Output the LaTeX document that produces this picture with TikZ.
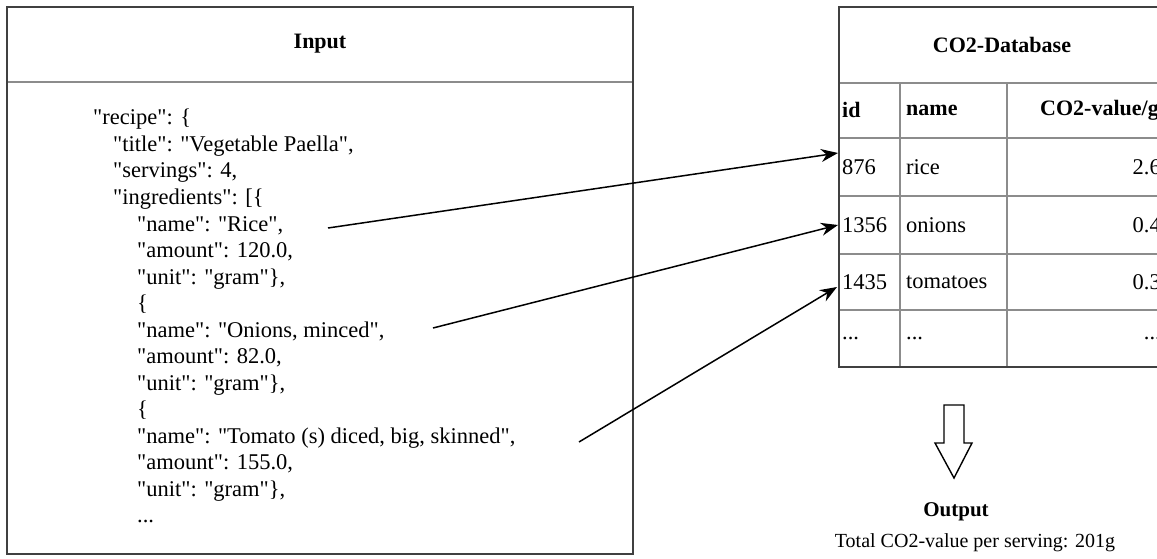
\documentclass[tikz,border=0pt]{standalone}
\usepackage{fontspec}
\setmainfont{Liberation Serif}[Ligatures=TeXOff]
\usetikzlibrary{arrows.meta}
\tikzset {>=Stealth}
\tikzset{
  frame/.style={draw=black!75, line width=1.6pt},
  rule/.style={draw=black!45, line width=1.6pt},
  txt/.style={inner sep=0pt, font=\fontsize{22.5}{26.5}\selectfont},
  head/.style={inner sep=0pt, font=\fontsize{22}{26.5}\selectfont\bfseries},
  link/.style={->, line width=1.5pt, >={Stealth[length=17pt,width=13pt]}}
}

\begin{document}
\begin{tikzpicture}[x=1pt,y=-1pt]
\clip (0,0) rectangle (1157,559);
% input box
\draw[rule] (7,82) -- (633,82);
\draw[frame] (7,7) rectangle (633,554);
\node[head] (inhead) at (320,44) {Input};
\node[txt,anchor=base west] (l0) at (93,125) {"recipe": \{};
\node[txt,anchor=base west] (l1) at (113,151.5) {"title": "Vegetable Paella",};
\node[txt,anchor=base west] (l2) at (113,178) {"servings": 4,};
\node[txt,anchor=base west] (l3) at (113,204.5) {"ingredients": [\{};
\node[txt,anchor=base west] (l4) at (137,231) {"name": "Rice",};
\node[txt,anchor=base west] (l5) at (137,257.5) {"amount": 120.0,};
\node[txt,anchor=base west] (l6) at (137,284) {"unit": "gram"\},};
\node[txt,anchor=base west] (l7) at (137,310.5) {\{};
\node[txt,anchor=base west] (l8) at (137,337) {"name": "Onions, minced",};
\node[txt,anchor=base west] (l9) at (137,363.5) {"amount": 82.0,};
\node[txt,anchor=base west] (l10) at (137,390) {"unit": "gram"\},};
\node[txt,anchor=base west] (l11) at (137,416.5) {\{};
\node[txt,anchor=base west] (l12) at (137,443) {"name": "Tomato (s) diced, big, skinned",};
\node[txt,anchor=base west] (l13) at (137,469.5) {"amount": 155.0,};
\node[txt,anchor=base west] (l14) at (137,496) {"unit": "gram"\},};
\node[txt,anchor=base west] (l15) at (137,522.5) {...};
% database table
\draw[rule] (839,83) -- (1165,83);
\draw[rule] (839,138) -- (1165,138);
\draw[rule] (839,196) -- (1165,196);
\draw[rule] (839,254) -- (1165,254);
\draw[rule] (839,310) -- (1165,310);
\draw[rule] (900,83) -- (900,367);
\draw[rule] (1007,83) -- (1007,367);
\draw[frame] (839,7) rectangle (1165,367);
\node[head] (dbhead) at (1002,45) {CO2-Database};
\node[head,anchor=west] (hid) at (842,110) {id};
\node[head,anchor=west] (hname) at (906,110) {name};
\node[head,anchor=west] (hval) at (1040,110) {CO2-value/g};
\node[txt,anchor=west] (id1) at (842,167) {876};
\node[txt,anchor=west] (nm1) at (906,167) {rice};
\node[txt,anchor=east] (val1) at (1161,167) {2.6};
\node[txt,anchor=west] (id2) at (842,225) {1356};
\node[txt,anchor=west] (nm2) at (906,225) {onions};
\node[txt,anchor=east] (val2) at (1161,225) {0.4};
\node[txt,anchor=west] (id3) at (842,282) {1435};
\node[txt,anchor=west] (nm3) at (906,282) {tomatoes};
\node[txt,anchor=east] (val3) at (1161,282) {0.3};
\node[txt,anchor=west] (id4) at (842,338) {...};
\node[txt,anchor=west] (nm4) at (906,338) {...};
\node[txt,anchor=east] (val4) at (1161,338) {...};
% links
\coordinate (rice) at (328,228);
\coordinate (onion) at (433,328);
\coordinate (tomato) at (579,442);
\coordinate (rowrice) at (838,153);
\coordinate (rowonion) at (838,225);
\coordinate (rowtomato) at (837,287);
\draw[link] (rice) -- (rowrice);
\draw[link] (onion) -- (rowonion);
\draw[link] (tomato) -- (rowtomato);
% result
\draw[line width=1.4pt] (944,405) -- (964,405) -- (964,443) -- (972,443)
  -- (954,478) -- (935,443) -- (944,443) -- cycle;
\node[head,font=\fontsize{21}{25}\selectfont\bfseries] (outhead) at (956,512) {Output};
\node[txt,font=\fontsize{20}{24}\selectfont] (total) at (975,543) {Total CO2-value per serving: 201g};
\end{tikzpicture}
\end{document}
